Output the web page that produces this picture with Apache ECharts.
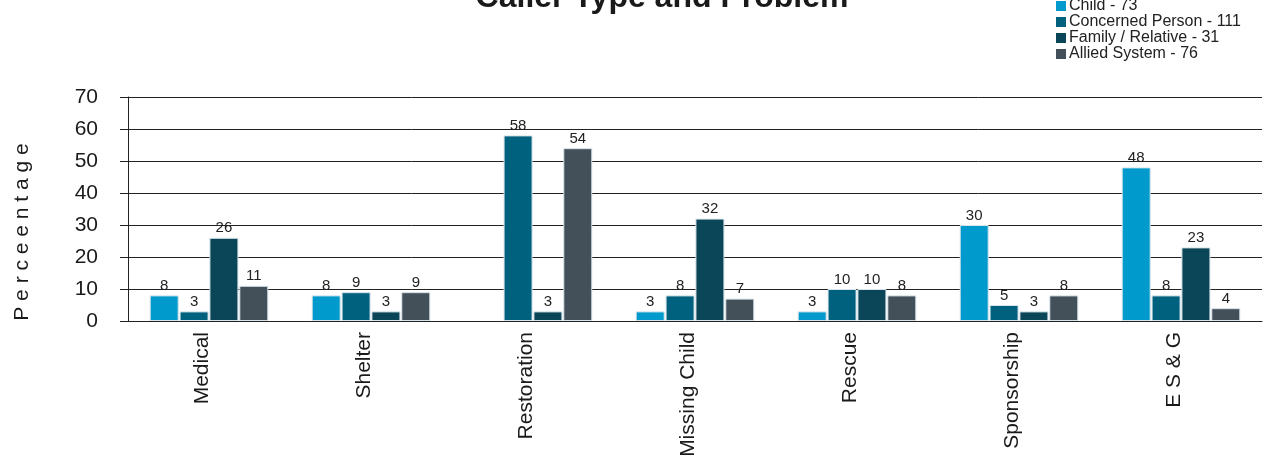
<!DOCTYPE html>
<html><head><meta charset="utf-8">
<script src="https://cdn.jsdelivr.net/npm/echarts@6/dist/echarts.min.js"></script>
<style>html,body{margin:0;padding:0;background:#fff}#c{width:1269px;height:458px}</style>
</head><body><div id="c"></div>
<script>
const categories = ['Medical','Shelter','Restoration','Missing Child','Rescue','Sponsorship','E S & G'];
const seriesNames = ['Child - 73','Concerned Person - 111','Family / Relative - 31','Allied System - 76'];
const child = [8, 8, null, 3, 3, 30, 48];
const concerned = [3, 9, 58, 8, 10, 5, 8];
const family = [26, 3, 3, 32, 10, 3, 23];
const allied = [11, 9, 54, 7, 8, 8, 4];
const yTicks = {min: 0, max: 70, interval: 10};
const colors = ['#009bcc', '#00617f', '#0a4658', '#434f59'];

const values = [child, concerned, family, allied];
const FONT = 'Liberation Sans, Arial';
const chart = echarts.init(document.getElementById('c'));
chart.setOption({
  animation: false,
  title: {
    text: 'Caller Type and Problem', left: 657, top: -23, textAlign: 'center',
    textStyle: {fontFamily: FONT, fontSize: 32, fontWeight: 'bold', color: '#1a1a1a'}
  },
  legend: {
    orient: 'vertical', left: 1051, top: -7, itemWidth: 10, itemHeight: 10, itemGap: 0,
    icon: 'rect', itemStyle: {borderWidth: 0},
    textStyle: {fontFamily: FONT, fontSize: 16, lineHeight: 15, color: '#222', padding: [0,0,0,-2]},
    data: seriesNames
  },
  graphic: [{
    type: 'text', x: 22, y: 232, rotation: Math.PI / 2,
    style: {text: 'P e r c e e n t a g e', fontFamily: FONT, fontSize: 21, fill: '#1a1a1a',
            textAlign: 'center', textVerticalAlign: 'middle'}
  }],
  grid: {left: 128, right: 7, top: 97, bottom: 137, containLabel: false, outerBoundsMode: 'none'},
  xAxis: {
    type: 'category', data: categories,
    axisLine: {lineStyle: {color: '#222', width: 1}},
    axisTick: {length: 6, lineStyle: {color: '#222'}},
    axisLabel: {rotate: 90, fontFamily: FONT, fontSize: 21, color: '#1a1a1a', margin: 11,
                verticalAlign: 'bottom', lineHeight: 14}
  },
  yAxis: {
    type: 'value', min: yTicks.min, max: yTicks.max, interval: yTicks.interval,
    axisLine: {show: true, lineStyle: {color: '#222'}},
    axisTick: {show: true, length: 8, lineStyle: {color: '#222'}},
    axisLabel: {fontFamily: FONT, fontSize: 21, color: '#1a1a1a', margin: 30},
    splitLine: {lineStyle: {color: '#222', width: 1}}
  },
  series: seriesNames.map((n, i) => ({
    name: n, type: 'bar', data: values[i],
    barWidth: 29, barGap: '3%', barCategoryGap: '27%',
    itemStyle: {color: colors[i], borderColor: '#d8e4ea', borderWidth: 1},
    label: {show: true, position: 'top', distance: 2, fontFamily: FONT, fontSize: 15, color: '#222'}
  }))
});
</script></body></html>
